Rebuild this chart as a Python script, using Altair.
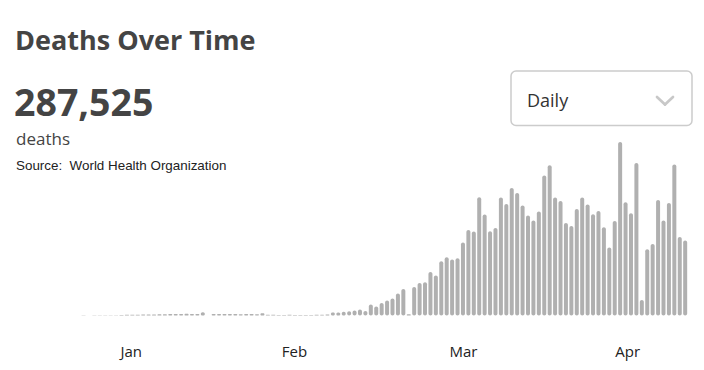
import altair as alt
import pandas as pd

# ---- data ----
daily_deaths = [
    17, 10, 16, 15, 24, 26, 26, 38, 43, 46,
    45, 57, 64, 66, 73, 73, 86, 89, 97, 108,
    97, 100, 200, 10, 100, 95, 90, 95, 90, 85,
    95, 90, 85, 130, 50, 45, 35, 40, 45, 35,
    40, 35, 40, 45, 55, 60,
    176, 188, 218, 253, 294, 353, 265, 647, 529,
    745, 882, 1000, 1294, 1568, 78, 1686, 1921, 1960, 2568,
    2352, 3195, 3430, 3293, 3371, 4292, 5037, 4939, 6958, 5939,
    4959, 5155, 6938, 6566, 7507, 7213, 6468, 5880, 5586, 6115,
    8232, 8840, 6938, 6742, 5449, 5272, 6272, 6938, 6527, 5958,
    6154, 5194, 3998, 5566, 10212, 6664, 6017, 8977, 921, 3900,
    4214, 6801, 5586, 6625, 8879, 4626, 4410,
]
month_labels = ["Jan", "Feb", "Mar", "Apr"]
month_label_days = [8.8, 38.9, 70.1, 100.4]

title_text = "Deaths Over Time"
total_text = "287,525"
unit_text = "deaths"
source_text = "Source:\u00a0\u00a0World Health Organization"
dropdown_text = "Daily"

BAR = "#b0b0b0"
DARK = "#444444"

df = pd.DataFrame({"day": list(range(len(daily_deaths))), "deaths": daily_deaths})
df["zero"] = 0
lab = pd.DataFrame({"day": month_label_days, "label": month_labels})
one = pd.DataFrame({"k": [0]})

xs = alt.Scale(domain=[-14.496, 113.55], nice=False, zero=False)
ys = alt.Scale(domain=[-3200, 18556], nice=False, zero=False)

bars = alt.Chart(df).mark_bar(size=4, cornerRadius=2, color=BAR).encode(
    x=alt.X("day:Q", scale=xs, axis=None),
    y=alt.Y("deaths:Q", scale=ys, axis=None),
    y2="zero:Q",
)

labels = alt.Chart(lab).mark_text(
    font="Open Sans", fontSize=15, color="#222222", baseline="alphabetic", align="center"
).encode(
    x=alt.X("day:Q", scale=xs, axis=None),
    y=alt.value(356.5),
    text="label:N",
)

def txt(s, x, y, size, weight="normal", font="Open Sans", color=DARK):
    return alt.Chart(one).mark_text(
        text=s, font=font, fontSize=size, fontWeight=weight, color=color,
        align="left", baseline="alphabetic",
    ).encode(x=alt.value(x), y=alt.value(y))

title = txt(title_text, 15, 50, 27, "bold")
total = txt(total_text, 14, 116, 37.5, "bold")
unit = txt(unit_text, 16, 145, 17)
source = txt(source_text, 16, 169.5, 13.4, font="Liberation Sans", color="#222222")

box = alt.Chart(one).mark_rect(
    fill="white", stroke="#cccccc", strokeWidth=1.5, cornerRadius=5
).encode(x=alt.value(511), x2=alt.value(692), y=alt.value(71), y2=alt.value(125.5))
daily = txt(dropdown_text, 527, 106.5, 18, color="#333333")

chev1 = alt.Chart(one).mark_rule(color="#c8c8c8", strokeWidth=2.7, strokeCap="round").encode(
    x=alt.value(657), x2=alt.value(665), y=alt.value(97), y2=alt.value(104.5))
chev2 = alt.Chart(one).mark_rule(color="#c8c8c8", strokeWidth=2.7, strokeCap="round").encode(
    x=alt.value(665), x2=alt.value(673), y=alt.value(104.5), y2=alt.value(97))

chart = alt.layer(
    bars, labels, title, total, unit, source, box, daily, chev1, chev2
).properties(
    width=704, height=370, padding=0, background="white",
    autosize=alt.AutoSizeParams(type="none"),
).configure_view(stroke=None)

chart.save("out.html", embed_options={"renderer": "svg", "actions": False})
